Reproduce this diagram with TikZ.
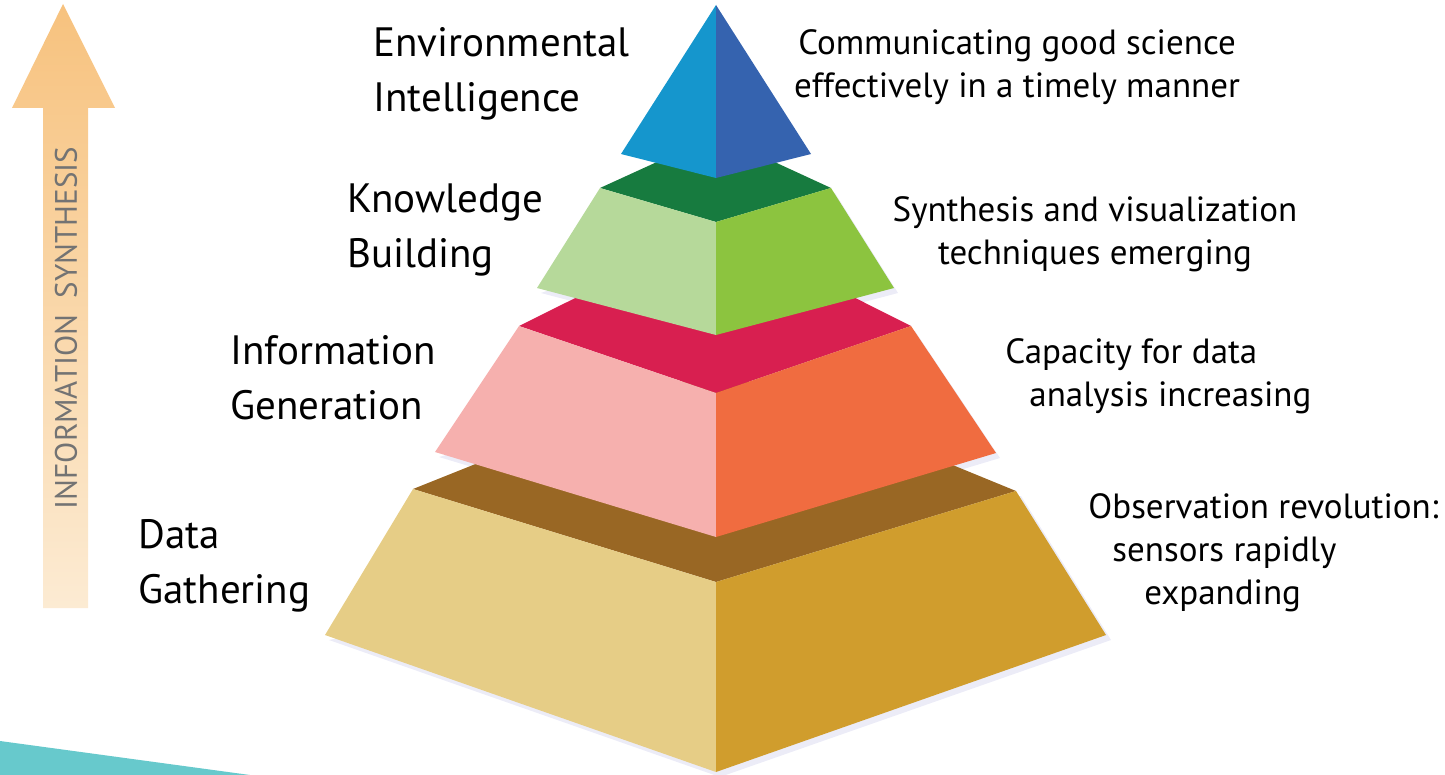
\documentclass[tikz,border=0pt]{standalone}
\usepackage{fontspec}
\setmainfont{PT Sans}
\definecolor{blueL}{HTML}{1596CD}
\definecolor{blueR}{HTML}{3563AF}
\definecolor{greenT}{HTML}{177B3F}
\definecolor{greenL}{HTML}{B6D99A}
\definecolor{greenR}{HTML}{8CC43F}
\definecolor{redT}{HTML}{D81F50}
\definecolor{redL}{HTML}{F6B0AE}
\definecolor{redR}{HTML}{F06C40}
\definecolor{brownT}{HTML}{996724}
\definecolor{brownL}{HTML}{E6CD86}
\definecolor{brownR}{HTML}{D09D2D}
\definecolor{arrowtop}{HTML}{F7C27E}
\definecolor{arrowbot}{HTML}{FCEBD3}
\definecolor{teal}{HTML}{67C9CC}
\tikzset{
  level/.style={anchor=west,align=left,inner sep=0pt,font=\fontsize{20.5}{27.5}\selectfont},
  remark/.style={inner sep=0pt,font=\fontsize{17.5}{21.5}\selectfont},
  shadow/.style={fill=black!40!blue!30,opacity=0.25}
}
\begin{document}
\begin{tikzpicture}[x=0.5pt,y=-0.5pt]
    \useasboundingbox (0,0) rectangle (1445,775);
    %corner band
    \fill[teal] (0,741)--(250,775)--(0,775)--cycle;
    %arrow
    \shade[top color=arrowtop,bottom color=arrowbot]
    (43,608)--(43,108)--(12,108)--(63,4)--(115,108)--(88,108)--(88,608)--cycle;
    \node[rotate=90,text=black!55,font=\fontsize{15.5}{18}\selectfont] (synth) at (66,328) {INFORMATION\ \ SYNTHESIS};
    %shadows
    \fill[shadow] (329,640)--(720,777)--(1111,640)--(1021,496)--(1000,496)--cycle;
    \fill[shadow] (439,457)--(720,542)--(1000,458)--(915,331)--(900,331)--cycle;
    \fill[shadow] (541,293)--(720,340)--(898,293)--(835,193)--(820,193)--cycle;
    %data gathering tier
    \fill[brownT] (413,489)--(716,368)--(1016,491)--(716,582)--cycle;
    \fill[brownL] (413,489)--(716,582)--(716,772)--(325,635)--cycle;
    \fill[brownR] (1016,491)--(716,582)--(716,772)--(1106,635)--cycle;
    %information tier
    \fill[redT] (519,326)--(716,228)--(911,326)--(716,393)--cycle;
    \fill[redL] (519,326)--(716,393)--(716,537)--(435,452)--cycle;
    \fill[redR] (911,326)--(716,393)--(716,537)--(996,453)--cycle;
    %knowledge tier
    \fill[greenT] (600,188)--(716,135)--(831,188)--(716,222)--cycle;
    \fill[greenL] (600,188)--(716,222)--(716,335)--(537,288)--cycle;
    \fill[greenR] (831,188)--(716,222)--(716,335)--(894,288)--cycle;
    %top
    \fill[blueL] (716,5)--(716,178)--(621,154)--cycle;
    \fill[blueR] (716,5)--(716,178)--(811,154)--cycle;
    %left labels
    \node[level] (envi) at (373,74) {Environmental\\Intelligence};
    \node[level] (know) at (347,230) {Knowledge\\Building};
    \node[level] (info) at (230,378) {Information\\Generation};
    \node[level] (data) at (138,566) {Data\\Gathering};
    %right labels
    \node[remark,align=center] (comm) at (1017,67) {Communicating good science\\effectively in a timely manner};
    \node[remark,align=center] (visu) at (1095,234) {Synthesis and visualization\\techniques emerging};
    \node[remark,align=left,anchor=west] (capa) at (1005,376) {Capacity for data\\\hspace*{12pt}analysis increasing};
    \node[remark,align=left,anchor=west] (obse) at (1088,553) {Observation revolution:\\\hspace*{12pt}sensors rapidly\\\hspace*{28pt}expanding};
\end{tikzpicture}
\end{document}
